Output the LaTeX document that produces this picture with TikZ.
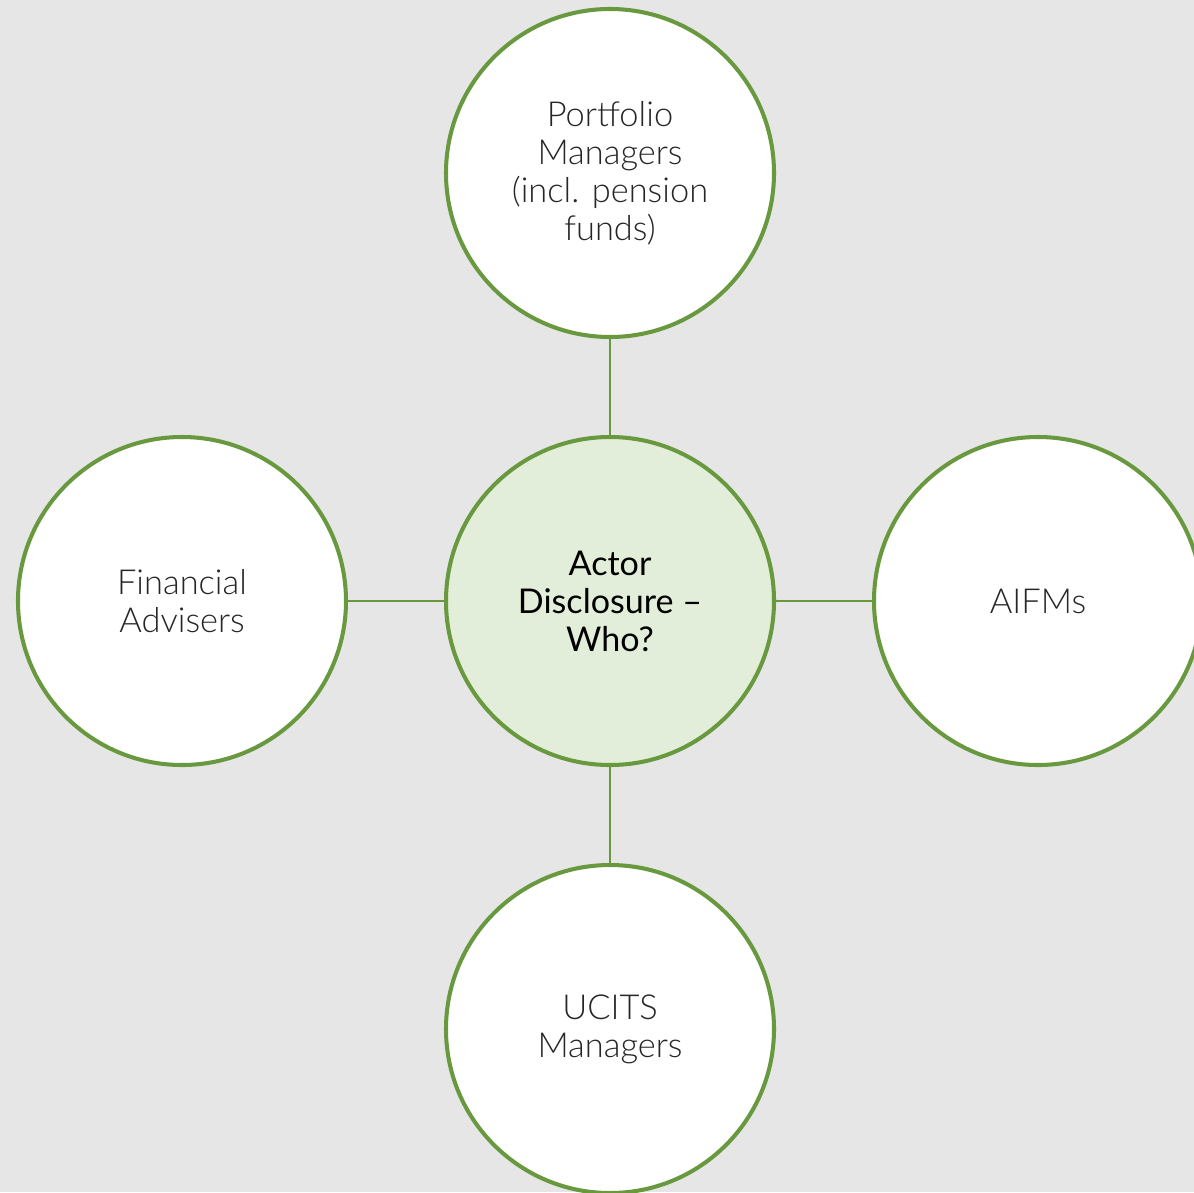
\documentclass[tikz,border=0pt]{standalone}
\usepackage{fontspec}
\setmainfont{Lato}
\newfontfamily\thinfont{Lato Light}
\usetikzlibrary{positioning}
\definecolor{leafgreen}{HTML}{68993E}
\definecolor{paleleaf}{HTML}{E2EEDA}
\definecolor{backgrey}{HTML}{E6E6E6}
\definecolor{inkgrey}{HTML}{262626}
\tikzset{
  actor/.style={circle,draw=leafgreen,line width=2.3pt,fill=white,
    minimum size=65.6mm,inner sep=0pt,align=center,
    font=\thinfont\fontsize{19.6}{21.6}\selectfont,text=inkgrey},
  hub/.style={actor,fill=paleleaf,text=black,
    font=\fontsize{19.4}{21.6}\selectfont},
  link/.style={draw=leafgreen,line width=1.2pt}
}
\begin{document}
\begin{tikzpicture}[x=0.2mm,y=-0.2mm,node distance=85.6mm,on grid]
	\fill[backgrey] (0,0) rectangle (1194,1192);
	\useasboundingbox (0,0) rectangle (1194,1192);

	\node[hub] (who) at (610,601) {Actor\\Disclosure --\\Who?};
	\node[actor] (pm) [above=of who] {Portfolio\\Managers\\(incl. pension\\funds)};
	\node[actor] (fa) [left=of who] {Financial\\Advisers};
	\node[actor] (aifm) [right=of who] {AIFMs};
	\node[actor] (ucits) [below=of who] {UCITS\\Managers};

	\path[link] (who) -- (pm);
	\path[link] (who) -- (fa);
	\path[link] (who) -- (aifm);
	\path[link] (who) -- (ucits);
\end{tikzpicture}
\end{document}
